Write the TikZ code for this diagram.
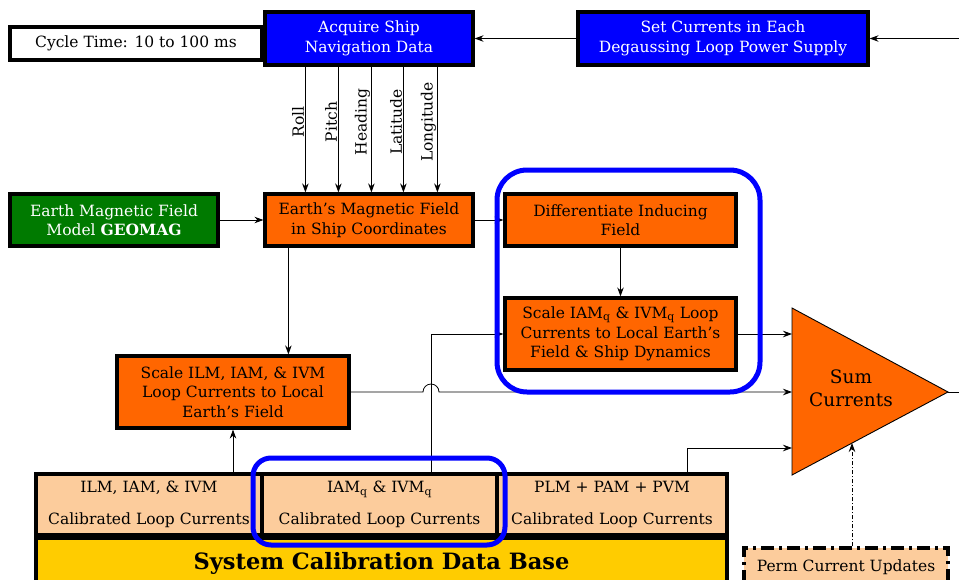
\documentclass[tikz,border=0pt]{standalone}
\usepackage{fontspec}
\setmainfont{DejaVu Serif}
\usetikzlibrary{positioning,arrows.meta}
\definecolor{navblue}{RGB}{0,0,255}
\definecolor{boxorange}{RGB}{255,102,0}
\definecolor{geogreen}{RGB}{0,122,0}
\definecolor{calpeach}{RGB}{252,204,156}
\definecolor{dbyellow}{RGB}{255,204,0}
\tikzset{
  blk/.style={draw, line width=3.2pt, align=center, inner sep=2pt,
    font=\fontsize{15.5}{19.5}\selectfont},
  navbox/.style={blk, fill=navblue, text=white},
  orbox/.style={blk, fill=boxorange},
  calbox/.style={blk, fill=calpeach, minimum height=61pt},
  flow/.style={-{Stealth[length=9pt,width=6.5pt,inset=3pt]}, line width=0.8pt},
  hilite/.style={draw=navblue, line width=5pt},
}
\begin{document}
\begin{tikzpicture}[x=1pt,y=-1pt]
\useasboundingbox (0,0) rectangle (959,579);
\clip (0,0) rectangle (959,579);
% top row
\node[blk, fill=white, minimum width=252pt, minimum height=33pt] (cycle) at (136,43.5) {Cycle Time: 10 to 100 ms};
\node[navbox, minimum width=208pt, minimum height=53pt] (acq) at (369,38.5) {Acquire Ship\\Navigation Data};
\node[navbox, minimum width=290pt, minimum height=53pt] (setcur) at (723,38.5) {Set Currents in Each\\Degaussing Loop Power Supply};
\coordinate (inR) at (959,38.5);
\draw[flow] (inR) -- (setcur);
\draw[flow] (setcur) -- (acq);
% field row
\node[blk, fill=geogreen, text=white, minimum width=208pt, minimum height=52pt] (geomag) at (114,220) {Earth Magnetic Field\\Model \textbf{GEOMAG}};
\node[orbox, minimum width=208pt, minimum height=52pt] (earthf) at (369,220) {Earth's Magnetic Field\\in Ship Coordinates};
\node[orbox, minimum width=231pt, minimum height=52pt] (diff) at (620.5,220) {Differentiate Inducing\\Field};
\node[orbox, minimum width=231pt, minimum height=72pt] (scaleq) at (620.5,334) {Scale IAM$_\mathrm{q}$ \& IVM$_\mathrm{q}$ Loop\\Currents to Local Earth's\\Field \& Ship Dynamics};
\node[orbox, minimum width=232pt, minimum height=72pt] (scalel) at (233,392) {Scale ILM, IAM, \& IVM\\Loop Currents to Local\\Earth's Field};
\foreach \x/\lab in {42/Roll, 75/Pitch, 108/Heading, 140/Latitude, 174/Longitude} % nav signals
\draw[flow] ([xshift=\x pt]acq.south west) -- ([xshift=\x pt]earthf.north west)
  node[pos=0.44, rotate=90, anchor=south, inner sep=1pt, font=\fontsize{15.5}{17}\selectfont] {\lab};
\draw[flow] (geomag) -- (earthf);
\draw[flow] (earthf) -- (diff);
\draw[flow] (diff) -- (scaleq);
\draw[flow] ([xshift=25pt]earthf.south west) -- ([xshift=25pt]earthf.south west |- scalel.north);
% sum block
\draw[fill=boxorange, line width=0.9pt] (792,308) -- (948,392) -- (792,475) -- cycle;
\node[align=center, font=\fontsize{18.5}{23}\selectfont] (sum) at (851,388) {Sum\\Currents};
\coordinate (sumin1) at (792,334);
\coordinate (sumin2) at (792,392);
\coordinate (sumin3) at (792,448);
\coordinate (sumlow) at (852,443);
\coordinate (sumtip) at (948,392);
\coordinate (outR) at (959,392);
\draw[line width=0.8pt] (sumtip) -- (outR);
% calibration data base
\node[blk, fill=dbyellow, minimum width=691pt, minimum height=60pt, text depth=14pt,
  font=\fontsize{22.5}{26}\selectfont\bfseries] (db) at (381.5,568) {System Calibration Data Base};
\node[calbox, minimum width=226pt] (cal1) at (149,504.5) {ILM, IAM, \& IVM\\[12pt]Calibrated Loop Currents};
\node[calbox, minimum width=235pt] (cal2) at (379.5,504.5) {IAM$_\mathrm{q}$ \& IVM$_\mathrm{q}$\\[12pt]Calibrated Loop Currents};
\node[calbox, minimum width=230pt] (cal3) at (612,504.5) {PLM + PAM + PVM\\[12pt]Calibrated Loop Currents};
\node[blk, fill=calpeach, minimum width=204pt, minimum height=38pt,
  dash pattern=on 13pt off 5pt on 3pt off 5pt] (perm) at (846,567) {Perm Current Updates};
% connectors into sum
\draw[flow] (cal1.north -| scalel.south) -- (scalel.south);
\draw[flow] ([xshift=51.5pt]cal2.north) |- (scaleq.west);
\draw[flow] (scaleq.east) -- (sumin1);
\draw[flow] (scalel.east) -- (423,392) arc[start angle=180, end angle=360, radius=8] -- (sumin2);
\draw[flow] ([xshift=75pt]cal3.north) |- (sumin3);
\draw[flow, dash pattern=on 4pt off 2pt on 1pt off 2pt] ([xshift=6pt]perm.north) -- (sumlow);
% highlight frames
\draw[hilite, rounded corners=30pt] (497,170) rectangle (760,392);
\draw[hilite, rounded corners=18pt] (253,458) rectangle (505,545);
\end{tikzpicture}
\end{document}
